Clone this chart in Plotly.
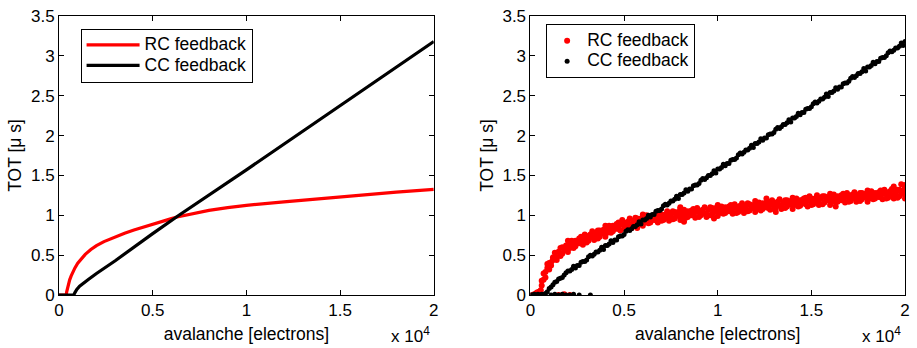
import plotly.graph_objects as go

# ---------------- data ----------------
# Left panel: simulated curves
rc_line_x = [0, 390, 410, 450, 500, 570, 650, 750, 850, 1000, 1200, 1400, 1700, 2000,
             2400, 3000, 3500, 4000, 4500, 5000, 5500, 6000, 6300, 7000, 7500, 8000,
             9000, 10000, 12000, 14000, 16000, 18000, 20000]
rc_line_y = [0, 0, 0.04, 0.09, 0.14, 0.19, 0.24, 0.295, 0.34, 0.40, 0.46, 0.51, 0.57, 0.62,
             0.67, 0.73, 0.775, 0.815, 0.853, 0.89, 0.925, 0.958, 0.978, 1.015, 1.04, 1.062,
             1.097, 1.125, 1.168, 1.21, 1.25, 1.29, 1.325]
cc_line_x = [0, 790, 850, 950, 1100, 1300, 1600, 2000, 3000, 5000, 6400, 10000, 15000, 20000]
cc_line_y = [0, 0, 0.03, 0.07, 0.11, 0.15, 0.20, 0.27, 0.43, 0.77, 1.00, 1.57, 2.38, 3.18]

# Right panel: measured points
sample_x = [600, 700, 800, 900, 1000, 1100, 1200, 1300, 1400, 1500,
            1600, 1700, 1800, 1900, 2000, 2100, 2200, 2300, 2400, 2500,
            2600, 2700, 2800, 2900, 3000, 3100, 3200, 3300, 3400, 3500,
            3600, 3700, 3800, 3900, 4000, 4100, 4200, 4300, 4400, 4500,
            4600, 4700, 4800, 4900, 5000, 5100, 5200, 5300, 5400, 5500,
            5600, 5700, 5800, 5900, 6000, 6100, 6200, 6300, 6400, 6500,
            6600, 6700, 6800, 6900, 7000, 7100, 7200, 7300, 7400, 7500,
            7600, 7700, 7800, 7900, 8000, 8100, 8200, 8300, 8400, 8500,
            8600, 8700, 8800, 8900, 9000, 9100, 9200, 9300, 9400, 9500,
            9600, 9700, 9800, 9900, 10000, 10100, 10200, 10300, 10400, 10500,
            10600, 10700, 10800, 10900, 11000, 11100, 11200, 11300, 11400, 11500,
            11600, 11700, 11800, 11900, 12000, 12100, 12200, 12300, 12400, 12500,
            12600, 12700, 12800, 12900, 13000, 13100, 13200, 13300, 13400, 13500,
            13600, 13700, 13800, 13900, 14000, 14100, 14200, 14300, 14400, 14500,
            14600, 14700, 14800, 14900, 15000, 15100, 15200, 15300, 15400, 15500,
            15600, 15700, 15800, 15900, 16000, 16100, 16200, 16300, 16400, 16500,
            16600, 16700, 16800, 16900, 17000, 17100, 17200, 17300, 17400, 17500,
            17600, 17700, 17800, 17900, 18000, 18100, 18200, 18300, 18400, 18500,
            18600, 18700, 18800, 18900, 19000, 19100, 19200, 19300, 19400, 19500,
            19600, 19700, 19800, 19900, 20000]

rc_pts_a = [0.18, 0.19, 0.29, 0.39, 0.32, 0.41, 0.47, 0.45, 0.44, 0.54,
            0.59, 0.52, 0.59, 0.58, 0.68, 0.59, 0.65, 0.59, 0.68, 0.66,
            0.71, 0.65, 0.70, 0.76, 0.66, 0.72, 0.76, 0.72, 0.69, 0.77,
            0.81, 0.73, 0.79, 0.78, 0.87, 0.78, 0.84, 0.78, 0.87, 0.85,
            0.89, 0.83, 0.88, 0.94, 0.83, 0.89, 0.92, 0.88, 0.84, 0.93,
            0.97, 0.88, 0.94, 0.92, 1.01, 0.91, 0.97, 0.90, 0.98, 0.96,
            1.00, 0.94, 0.98, 1.03, 0.93, 0.98, 1.01, 0.97, 0.93, 1.01,
            1.05, 0.96, 1.01, 1.00, 1.08, 0.98, 1.04, 0.97, 1.05, 1.02,
            1.06, 1.00, 1.04, 1.09, 0.98, 1.04, 1.07, 1.02, 0.98, 1.07,
            1.10, 1.01, 1.06, 1.05, 1.13, 1.03, 1.08, 1.02, 1.10, 1.07,
            1.11, 1.05, 1.09, 1.14, 1.03, 1.08, 1.12, 1.07, 1.03, 1.11,
            1.15, 1.06, 1.11, 1.09, 1.18, 1.08, 1.13, 1.06, 1.15, 1.12,
            1.16, 1.09, 1.14, 1.19, 1.08, 1.13, 1.17, 1.12, 1.08, 1.16,
            1.19, 1.11, 1.16, 1.14, 1.22, 1.13, 1.18, 1.11, 1.19, 1.17,
            1.21, 1.14, 1.18, 1.24, 1.13, 1.18, 1.21, 1.17, 1.13, 1.21,
            1.24, 1.16, 1.21, 1.19, 1.27, 1.17, 1.23, 1.16, 1.24, 1.21,
            1.25, 1.19, 1.23, 1.28, 1.17, 1.22, 1.26, 1.21, 1.17, 1.25,
            1.28, 1.20, 1.25, 1.23, 1.31, 1.21, 1.27, 1.20, 1.28, 1.25,
            1.29, 1.23, 1.27, 1.32, 1.21, 1.26, 1.30, 1.25, 1.21, 1.29,
            1.32, 1.24, 1.29, 1.27, 1.35]
rc_pts_b = [0.12, 0.27, 0.22, 0.34, 0.40, 0.37, 0.44, 0.53, 0.47, 0.54,
            0.49, 0.60, 0.57, 0.62, 0.54, 0.63, 0.68, 0.62, 0.61, 0.68,
            0.65, 0.73, 0.63, 0.71, 0.74, 0.68, 0.73, 0.80, 0.72, 0.77,
            0.71, 0.81, 0.77, 0.82, 0.73, 0.82, 0.87, 0.81, 0.80, 0.87,
            0.83, 0.91, 0.81, 0.89, 0.91, 0.85, 0.89, 0.96, 0.87, 0.93,
            0.87, 0.96, 0.92, 0.96, 0.87, 0.95, 1.00, 0.93, 0.91, 0.98,
            0.94, 1.02, 0.91, 0.98, 1.01, 0.94, 0.98, 1.05, 0.96, 1.01,
            0.95, 1.04, 0.99, 1.04, 0.94, 1.02, 1.07, 1.00, 0.98, 1.04,
            1.00, 1.08, 0.97, 1.04, 1.06, 1.00, 1.04, 1.10, 1.01, 1.07,
            1.00, 1.09, 1.04, 1.09, 0.99, 1.07, 1.11, 1.05, 1.03, 1.09,
            1.05, 1.13, 1.02, 1.09, 1.11, 1.04, 1.09, 1.15, 1.06, 1.11,
            1.05, 1.14, 1.09, 1.13, 1.04, 1.12, 1.16, 1.09, 1.08, 1.14,
            1.10, 1.17, 1.07, 1.14, 1.16, 1.09, 1.14, 1.20, 1.11, 1.16,
            1.09, 1.19, 1.14, 1.18, 1.08, 1.17, 1.21, 1.14, 1.12, 1.19,
            1.15, 1.22, 1.11, 1.19, 1.21, 1.14, 1.18, 1.25, 1.16, 1.21,
            1.14, 1.24, 1.19, 1.23, 1.13, 1.21, 1.26, 1.19, 1.17, 1.23,
            1.19, 1.27, 1.16, 1.23, 1.25, 1.18, 1.23, 1.29, 1.20, 1.25,
            1.18, 1.28, 1.23, 1.27, 1.17, 1.25, 1.30, 1.23, 1.21, 1.27,
            1.23, 1.31, 1.20, 1.27, 1.29, 1.22, 1.27, 1.33, 1.24, 1.29,
            1.22, 1.32, 1.27, 1.31, 1.21]
rc_extra_x = [100, 200, 300, 350, 400, 450, 500, 550, 1500, 1800, 2100,
              5700, 8000, 8200, 9800, 12600, 13100, 16300, 19400, 19800, 20000]
rc_extra_y = [0.00, 0.01, 0.02, 0.03, 0.00, 0.04, 0.02, 0.06, 0.00, 0.01, 0.00,
              0.84, 1.10, 0.92, 0.96, 1.21, 1.04, 1.11, 1.36, 1.39, 1.38]

cc_pts_y = [0.02, 0.04, 0.08, 0.10, 0.13, 0.16, 0.17, 0.20, 0.21, 0.22, 0.25, 0.28,
            0.30, 0.30, 0.32, 0.36, 0.34, 0.37, 0.37, 0.41, 0.42, 0.42,
            0.44, 0.48, 0.50, 0.49, 0.51, 0.54, 0.54, 0.56, 0.60, 0.57,
            0.62, 0.62, 0.64, 0.68, 0.66, 0.69, 0.69, 0.73, 0.74, 0.74,
            0.76, 0.80, 0.82, 0.81, 0.83, 0.86, 0.86, 0.88, 0.92, 0.89,
            0.94, 0.94, 0.96, 1.00, 0.98, 1.01, 1.01, 1.05, 1.06, 1.06,
            1.08, 1.12, 1.14, 1.13, 1.15, 1.18, 1.18, 1.20, 1.24, 1.21,
            1.26, 1.26, 1.28, 1.32, 1.30, 1.33, 1.33, 1.37, 1.38, 1.38,
            1.40, 1.44, 1.46, 1.45, 1.47, 1.50, 1.50, 1.52, 1.56, 1.53,
            1.58, 1.58, 1.60, 1.64, 1.62, 1.65, 1.65, 1.69, 1.70, 1.70,
            1.72, 1.76, 1.78, 1.77, 1.79, 1.82, 1.82, 1.84, 1.88, 1.85,
            1.90, 1.90, 1.92, 1.96, 1.94, 1.97, 1.97, 2.01, 2.02, 2.02,
            2.04, 2.08, 2.10, 2.09, 2.11, 2.14, 2.14, 2.16, 2.20, 2.17,
            2.22, 2.22, 2.24, 2.28, 2.26, 2.29, 2.29, 2.33, 2.34, 2.34,
            2.36, 2.40, 2.42, 2.41, 2.43, 2.46, 2.46, 2.48, 2.52, 2.49,
            2.54, 2.54, 2.56, 2.60, 2.58, 2.61, 2.61, 2.65, 2.66, 2.66,
            2.68, 2.72, 2.74, 2.73, 2.75, 2.78, 2.78, 2.80, 2.84, 2.81,
            2.86, 2.86, 2.88, 2.92, 2.90, 2.93, 2.93, 2.97, 2.98, 2.98,
            3.00, 3.04, 3.06, 3.05, 3.07, 3.10, 3.10, 3.12, 3.16, 3.13,
            3.18]
cc_extra_x = [0, 100, 200, 300, 400, 500, 600, 700, 750, 1100, 1300, 1500,
              1700, 1900, 2100, 2300, 2600, 3200]
cc_extra_y = [0, 0, 0.01, 0, 0.01, 0, 0.01, 0, 0.01, 0, 0.01, 0,
              0.01, 0, 0, 0.01, 0, 0]

series_names = ["RC feedback", "CC feedback"]
x_tick_vals = [0, 5000, 10000, 15000, 20000]
x_tick_text = ["0", "0.5", "1", "1.5", "2"]
y_tick_vals = [0, 0.5, 1, 1.5, 2, 2.5, 3, 3.5]
y_tick_text = ["0", "0.5", "1", "1.5", "2", "2.5", "3", "3.5"]

RED = "#ff0000"
BLACK = "#000000"
FONT = "Liberation Sans, Arial, Helvetica, sans-serif"


def legend_label(s):
    # larger glyphs than the legend's row spacing, as in the original figure
    return "<span style='font-size:17.5px'>" + s + "</span>"


fig = go.Figure()

# left panel
fig.add_trace(go.Scatter(x=rc_line_x, y=rc_line_y, mode="lines", name=legend_label(series_names[0]),
                         line=dict(color=RED, width=3.2),
                         xaxis="x", yaxis="y", legend="legend"))
fig.add_trace(go.Scatter(x=cc_line_x, y=cc_line_y, mode="lines", name=legend_label(series_names[1]),
                         line=dict(color=BLACK, width=3.2), xaxis="x", yaxis="y", legend="legend"))

# right panel
fig.add_trace(go.Scatter(x=sample_x + sample_x + rc_extra_x, y=rc_pts_a + rc_pts_b + rc_extra_y,
                         mode="markers", name=legend_label(series_names[0]),
                         marker=dict(color=RED, size=6, line=dict(width=0)),
                         xaxis="x2", yaxis="y2", legend="legend2"))
fig.add_trace(go.Scatter(x=sample_x[2:] + cc_extra_x, y=cc_pts_y + cc_extra_y,
                         mode="markers", name=legend_label(series_names[1]),
                         marker=dict(color=BLACK, size=5, line=dict(width=0)),
                         xaxis="x2", yaxis="y2", legend="legend2"))


def xaxis(domain, anchor):
    return dict(domain=domain, anchor=anchor, range=[0, 20000],
                tickmode="array", tickvals=x_tick_vals, ticktext=x_tick_text,
                ticks="inside", ticklen=5, tickcolor=BLACK, tickwidth=1,
                showline=True, linecolor=BLACK, linewidth=1, mirror="ticks",
                showgrid=False, zeroline=False,
                tickfont=dict(size=17, color=BLACK, family=FONT),
                title=dict(text="avalanche [electrons]", standoff=8,
                           font=dict(size=17.5, color=BLACK, family=FONT)))


def yaxis(anchor):
    return dict(domain=[0, 1], anchor=anchor, range=[0, 3.5],
                tickmode="array", tickvals=y_tick_vals, ticktext=y_tick_text,
                ticks="inside", ticklen=5, tickcolor=BLACK, tickwidth=1,
                showline=True, linecolor=BLACK, linewidth=1, mirror="ticks",
                showgrid=False, zeroline=False,
                tickfont=dict(size=17, color=BLACK, family=FONT),
                title=dict(text="TOT [\u03bc s]", standoff=4,
                           font=dict(size=17.5, color=BLACK, family=FONT)))


legend_common = dict(xanchor="left", yanchor="top", bordercolor=BLACK, borderwidth=1,
                     bgcolor="white", font=dict(size=13.5, color=BLACK, family=FONT),
                     tracegroupgap=0)

fig.update_layout(
    width=917, height=348,
    margin=dict(l=59, r=7, t=10, b=53),
    paper_bgcolor="white", plot_bgcolor="white",
    font=dict(family=FONT, color=BLACK),
    xaxis=xaxis([0, 0.443], "y"),
    yaxis=yaxis("x"),
    xaxis2=xaxis([0.5573, 1.0], "y2"),
    yaxis2=yaxis("x2"),
    legend=dict(x=0.0255, y=0.955, itemwidth=53, **legend_common),
    legend2=dict(x=0.5758, y=0.97, **legend_common),
    showlegend=True,
    annotations=[
        dict(text="x 10<sup>4</sup>", xref="x", yref="paper", x=19900, y=-0.145,
             xanchor="right", yanchor="middle", showarrow=False,
             font=dict(size=17, color=BLACK, family=FONT)),
        dict(text="x 10<sup>4</sup>", xref="x2", yref="paper", x=19900, y=-0.145,
             xanchor="right", yanchor="middle", showarrow=False,
             font=dict(size=17, color=BLACK, family=FONT)),
    ],
)

fig.write_html("out.html")
